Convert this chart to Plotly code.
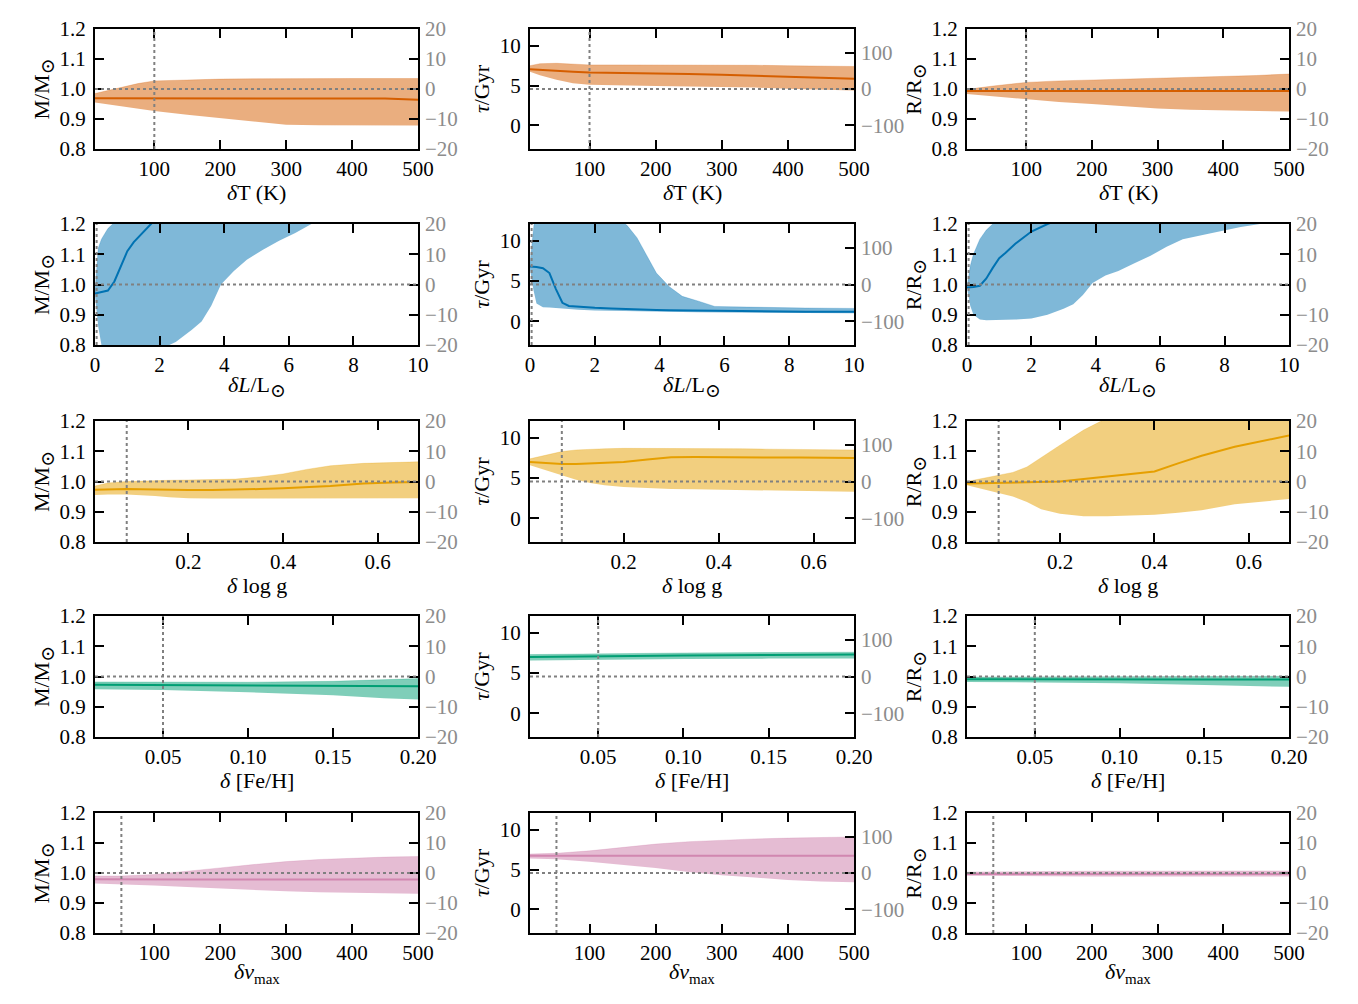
import plotly.graph_objects as go

# ---------------- data ----------------
# row 1: delta T (K)
x_T = [10, 25, 50, 75, 100, 150, 200, 250, 300, 350, 400, 450, 500]
M_T_med = [0.969, 0.969, 0.969, 0.969, 0.969, 0.970, 0.970, 0.970, 0.970, 0.970, 0.969, 0.968, 0.964]
M_T_hi = [0.985, 0.993, 1.005, 1.018, 1.027, 1.031, 1.033, 1.034, 1.035, 1.035, 1.035, 1.035, 1.035]
M_T_lo = [0.955, 0.950, 0.943, 0.935, 0.927, 0.914, 0.903, 0.890, 0.881, 0.879, 0.878, 0.878, 0.878]
A_T_med = [7.05, 7.0, 6.9, 6.75, 6.65, 6.6, 6.55, 6.45, 6.35, 6.25, 6.1, 6.0, 5.85]
A_T_hi = [7.5, 7.75, 7.8, 7.7, 7.6, 7.6, 7.6, 7.6, 7.6, 7.55, 7.5, 7.45, 7.4]
A_T_lo = [6.75, 6.3, 5.75, 5.3, 5.1, 5.0, 4.95, 4.9, 4.85, 4.75, 4.6, 4.5, 4.4]
R_T_med = [0.993, 0.993, 0.993, 0.993, 0.993, 0.993, 0.993, 0.993, 0.993, 0.993, 0.993, 0.993, 0.993]
R_T_hi = [0.997, 1.003, 1.010, 1.017, 1.022, 1.027, 1.030, 1.032, 1.035, 1.038, 1.040, 1.045, 1.050]
R_T_lo = [0.983, 0.980, 0.975, 0.970, 0.965, 0.957, 0.950, 0.942, 0.935, 0.931, 0.929, 0.927, 0.925]

# row 2: delta L / Lsun
x_L = [0, 0.1, 0.2, 0.4, 0.6, 0.8, 1.0, 1.2, 1.5, 2.0, 2.5, 3.0, 3.3, 3.6, 3.9, 4.3, 4.7, 5.2, 5.7, 6.2, 6.7, 7.5, 8.5, 10]
M_L_med = [0.97, 0.972, 0.975, 0.98, 1.01, 1.06, 1.11, 1.14, 1.175, 1.23, 1.27, 1.30, 1.32, 1.34, 1.36, 1.38, 1.40, 1.42, 1.44, 1.46, 1.48, 1.50, 1.53, 1.56]
M_L_hi = [0.975, 1.12, 1.15, 1.185, 1.205, 1.30, 1.34, 1.37, 1.40, 1.45, 1.49, 1.52, 1.54, 1.56, 1.58, 1.60, 1.62, 1.64, 1.66, 1.68, 1.70, 1.73, 1.77, 1.82]
M_L_lo = [0.965, 0.86, 0.80, 0.74, 0.71, 0.69, 0.68, 0.68, 0.70, 0.785, 0.81, 0.85, 0.878, 0.93, 1.0, 1.045, 1.082, 1.115, 1.145, 1.17, 1.20, 1.23, 1.26, 1.30]
A_L_med = [6.8, 6.8, 6.75, 6.6, 6.0, 4.0, 2.3, 1.9, 1.8, 1.68, 1.6, 1.5, 1.45, 1.42, 1.4, 1.37, 1.35, 1.32, 1.3, 1.28, 1.26, 1.23, 1.2, 1.18]
A_L_hi = [7.2, 13.0, 15.0, 16.0, 16.0, 16.0, 15.8, 15.6, 15.3, 15.0, 13.5, 11.9, 10.4, 8.2, 6.0, 4.3, 3.1, 2.5, 1.85, 1.8, 1.75, 1.7, 1.65, 1.6]
A_L_lo = [6.5, 4.0, 2.2, 1.75, 1.7, 1.62, 1.55, 1.5, 1.42, 1.35, 1.3, 1.25, 1.23, 1.22, 1.2, 1.18, 1.15, 1.13, 1.1, 1.08, 1.06, 1.04, 1.02, 1.0]
R_L_med = [0.99, 0.99, 0.992, 0.996, 1.02, 1.055, 1.087, 1.105, 1.135, 1.175, 1.20, 1.22, 1.23, 1.24, 1.25, 1.26, 1.27, 1.28, 1.29, 1.30, 1.31, 1.32, 1.33, 1.35]
R_L_hi = [0.99, 1.06, 1.10, 1.15, 1.18, 1.20, 1.22, 1.23, 1.24, 1.26, 1.28, 1.30, 1.31, 1.32, 1.33, 1.34, 1.35, 1.36, 1.37, 1.38, 1.39, 1.41, 1.43, 1.45]
R_L_lo = [0.99, 0.93, 0.90, 0.884, 0.882, 0.882, 0.882, 0.883, 0.884, 0.888, 0.90, 0.92, 0.935, 0.965, 1.005, 1.03, 1.045, 1.07, 1.095, 1.125, 1.15, 1.168, 1.19, 1.215]

# row 3: delta log g
x_G = [0.003, 0.03, 0.07, 0.1, 0.13, 0.16, 0.2, 0.25, 0.3, 0.35, 0.4, 0.45, 0.5, 0.57, 0.63, 0.685]
M_G_med = [0.973, 0.974, 0.975, 0.974, 0.973, 0.972, 0.972, 0.972, 0.973, 0.975, 0.978, 0.981, 0.985, 0.993, 0.997, 0.998]
M_G_hi = [0.985, 0.995, 1.0, 1.002, 1.003, 1.004, 1.005, 1.006, 1.008, 1.015, 1.025, 1.04, 1.052, 1.06, 1.063, 1.065]
M_G_lo = [0.955, 0.957, 0.957, 0.955, 0.952, 0.948, 0.945, 0.944, 0.944, 0.944, 0.944, 0.945, 0.945, 0.945, 0.945, 0.945]
A_G_med = [7.0, 6.9, 6.75, 6.75, 6.8, 6.9, 7.0, 7.3, 7.6, 7.62, 7.62, 7.6, 7.58, 7.55, 7.52, 7.5]
A_G_hi = [7.4, 7.8, 8.3, 8.5, 8.6, 8.65, 8.7, 8.7, 8.7, 8.7, 8.7, 8.65, 8.6, 8.55, 8.5, 8.5]
A_G_lo = [6.6, 6.1, 5.4, 4.8, 4.4, 4.1, 3.9, 3.75, 3.65, 3.6, 3.55, 3.5, 3.45, 3.4, 3.35, 3.3]
R_G_med = [0.993, 0.994, 0.995, 0.996, 0.997, 0.998, 1.0, 1.008, 1.017, 1.024, 1.033, 1.06, 1.085, 1.115, 1.135, 1.152]
R_G_hi = [1.0, 1.008, 1.02, 1.03, 1.048, 1.08, 1.12, 1.17, 1.21, 1.25, 1.28, 1.31, 1.34, 1.37, 1.40, 1.42]
R_G_lo = [0.988, 0.978, 0.962, 0.95, 0.932, 0.908, 0.893, 0.885, 0.885, 0.887, 0.89, 0.897, 0.905, 0.925, 0.935, 0.942]

# row 4: delta [Fe/H]
x_F = [0.01, 0.05, 0.1, 0.15, 0.18, 0.2]
M_F_med = [0.973, 0.972, 0.971, 0.970, 0.969, 0.968]
M_F_hi = [0.982, 0.981, 0.981, 0.984, 0.990, 0.993]
M_F_lo = [0.958, 0.955, 0.948, 0.938, 0.928, 0.924]
A_F_med = [7.0, 7.1, 7.2, 7.25, 7.3, 7.3]
A_F_hi = [7.3, 7.4, 7.5, 7.55, 7.6, 7.6]
A_F_lo = [6.55, 6.65, 6.75, 6.8, 6.8, 6.8]
R_F_med = [0.991, 0.990, 0.990, 0.990, 0.990, 0.990]
R_F_hi = [0.998, 0.999, 1.0, 1.0, 1.001, 1.001]
R_F_lo = [0.982, 0.981, 0.978, 0.972, 0.968, 0.966]

# row 5: delta nu_max
x_N = [10, 50, 100, 150, 200, 250, 300, 350, 400, 450, 500]
M_N_med = [0.979, 0.978, 0.978, 0.978, 0.978, 0.978, 0.978, 0.978, 0.978, 0.978, 0.978]
M_N_hi = [0.99, 0.99, 0.995, 1.005, 1.017, 1.028, 1.038, 1.045, 1.05, 1.053, 1.055]
M_N_lo = [0.965, 0.963, 0.958, 0.953, 0.948, 0.943, 0.939, 0.936, 0.934, 0.932, 0.931]
A_N_med = [6.75, 6.75, 6.75, 6.75, 6.75, 6.75, 6.75, 6.75, 6.75, 6.75, 6.75]
A_N_hi = [6.95, 7.05, 7.35, 7.8, 8.2, 8.5, 8.7, 8.85, 8.95, 9.05, 9.1]
A_N_lo = [6.4, 6.3, 6.0, 5.6, 5.2, 4.7, 4.3, 4.0, 3.7, 3.5, 3.4]
R_N_med = [0.997, 0.997, 0.997, 0.997, 0.997, 0.997, 0.997, 0.997, 0.997, 0.997, 0.997]
R_N_hi = [1.003, 1.004, 1.005, 1.005, 1.006, 1.006, 1.006, 1.007, 1.007, 1.007, 1.007]
R_N_lo = [0.991, 0.990, 0.989, 0.989, 0.988, 0.988, 0.988, 0.988, 0.988, 0.988, 0.988]

# reference (true) values
ref_x = [100, 0.05, 0.07, 0.05, 50]
ref_M, ref_age, ref_R = 1.0, 4.57, 1.0

SUN = '<span style="font-size:19px;baseline-shift:-5px">⊙</span>'
MAX = '<span style="font-size:15px;baseline-shift:-5px">max</span>'
x_titles = ["<i>δ</i>T (K)", "<i>δL</i>/L" + SUN, "<i>δ</i> log g", "<i>δ</i> [Fe/H]", "<i>δν</i>" + MAX]
y_titles = ["M/M" + SUN, "<i>τ</i>/Gyr", "R/R" + SUN]
x_ranges = [[10, 500], [0, 10], [0.003, 0.685], [0.01, 0.2], [10, 500]]
x_ticks = [[100, 200, 300, 400, 500], [0, 2, 4, 6, 8, 10], [0.2, 0.4, 0.6],
           [0.05, 0.10, 0.15, 0.20], [100, 200, 300, 400, 500]]
x_fmt = ["d", "d", ".1f", ".2f", "d"]
row_colors = ["213,94,0", "0,114,178", "230,159,0", "0,158,115", "204,121,167"]

rows_x = [x_T, x_L, x_G, x_F, x_N]
rows_data = [
    [(M_T_med, M_T_lo, M_T_hi), (A_T_med, A_T_lo, A_T_hi), (R_T_med, R_T_lo, R_T_hi)],
    [(M_L_med, M_L_lo, M_L_hi), (A_L_med, A_L_lo, A_L_hi), (R_L_med, R_L_lo, R_L_hi)],
    [(M_G_med, M_G_lo, M_G_hi), (A_G_med, A_G_lo, A_G_hi), (R_G_med, R_G_lo, R_G_hi)],
    [(M_F_med, M_F_lo, M_F_hi), (A_F_med, A_F_lo, A_F_hi), (R_F_med, R_F_lo, R_F_hi)],
    [(M_N_med, M_N_lo, M_N_hi), (A_N_med, A_N_lo, A_N_hi), (R_N_med, R_N_lo, R_N_hi)],
]
refs = [ref_M, ref_age, ref_R]
y_ranges = [[0.8, 1.2], [-2.95, 12.1], [0.8, 1.2]]
y_ticks = [[0.8, 0.9, 1.0, 1.1, 1.2], [0, 5, 10], [0.8, 0.9, 1.0, 1.1, 1.2]]
y_fmt = [".1f", "d", ".1f"]
y2_ticks = [[-20, -10, 0, 10, 20], [-100, 0, 100], [-20, -10, 0, 10, 20]]

# ---------------- layout geometry ----------------
W, H = 1358, 1004
cols_px = [(95, 418), (530, 854), (967, 1289)]
rows_px = [(29, 149), (224, 345), (421, 542), (616, 737), (813, 933)]
XTITLE_GAP = [43, 41, 43, 43, 40]  # px between axis line and x-title centre, per row

FONT = "Liberation Serif, DejaVu Serif, serif"
TICKFONT = dict(family=FONT, size=21, color="black")
GRAYFONT = dict(family=FONT, size=21, color="#8c8c8c")
TITLEFONT = dict(family=FONT, size=22, color="black")

fig = go.Figure()
layout = dict(
    width=W, height=H, margin=dict(l=0, r=0, t=0, b=0, autoexpand=False),
    paper_bgcolor="white", plot_bgcolor="white", showlegend=False,
    font=dict(family=FONT, size=21, color="black"),
)
shapes = []
annotations = []

for r in range(5):
    xs = rows_x[r]
    for c in range(3):
        p = r * 3 + c
        xi = p + 1
        y1 = 2 * p + 1
        y2 = 2 * p + 2
        xn = "x" if xi == 1 else f"x{xi}"
        yn1 = "y" if y1 == 1 else f"y{y1}"
        yn2 = f"y{y2}"
        med, lo, hi = rows_data[r][c]
        rgb = row_colors[r]
        fill = f"rgba({rgb},0.5)"
        line_col = f"rgba({rgb},0.8)" if r == 4 else f"rgb({rgb})"

        fig.add_trace(go.Scatter(x=xs, y=lo, mode="lines", line=dict(width=0, color=fill),
                                 xaxis=xn, yaxis=yn1, hoverinfo="skip"))
        fig.add_trace(go.Scatter(x=xs, y=hi, mode="lines", line=dict(width=0.8, color=f"rgba({rgb},0.3)"),
                                 fill="tonexty", fillcolor=fill,
                                 xaxis=xn, yaxis=yn1, hoverinfo="skip"))
        fig.add_trace(go.Scatter(x=xs, y=med, mode="lines", line=dict(width=2, color=line_col),
                                 xaxis=xn, yaxis=yn1))
        # percent-deviation twin axis (invisible helper trace)
        pct = [(v / refs[c] - 1) * 100 for v in med]
        fig.add_trace(go.Scatter(x=xs, y=pct, mode="lines", line=dict(width=0), opacity=0,
                                 xaxis=xn, yaxis=yn2, hoverinfo="skip"))

        xl, xr = cols_px[c]
        yt, yb = rows_px[r]
        xdom = [xl / W, xr / W]
        ydom = [1 - yb / H, 1 - yt / H]

        layout[f"xaxis{xi}"] = dict(
            domain=xdom, anchor=yn1, range=x_ranges[r], tickvals=x_ticks[r],
            tickformat=x_fmt[r], ticks="inside", ticklen=9, tickwidth=1.5, tickcolor="black",
            showline=True, linecolor="black", linewidth=2, mirror="ticks",
            showgrid=False, zeroline=False, tickfont=TICKFONT, automargin=False,
        )
        annotations.append(dict(
            text=x_titles[r], xref="paper", yref="paper", showarrow=False,
            x=(xl + xr) / 2 / W, y=1 - (yb + XTITLE_GAP[r]) / H,
            xanchor="center", yanchor="middle", font=TITLEFONT,
        ))
        layout[f"yaxis{y1}"] = dict(
            domain=ydom, anchor=xn, range=y_ranges[c], tickvals=y_ticks[c],
            tickformat=y_fmt[c], ticks="inside", ticklen=9, tickwidth=1.5, tickcolor="black",
            showline=True, linecolor="black", linewidth=2, mirror=True,
            showgrid=False, zeroline=False, tickfont=TICKFONT, automargin=False,
            ticklabelstandoff=3,
            title=dict(text=y_titles[c], font=TITLEFONT, standoff=4),
        )
        y2_range = [(v / refs[c] - 1) * 100 for v in y_ranges[c]]
        layout[f"yaxis{y2}"] = dict(
            overlaying=yn1, anchor=xn, side="right", range=y2_range, tickvals=y2_ticks[c],
            ticks="inside", ticklen=9, tickwidth=1.5, tickcolor="black",
            showline=False, showgrid=False, zeroline=False, tickfont=GRAYFONT,
            automargin=False, ticklabelstandoff=6,
        )
        # reference lines
        shapes.append(dict(type="line", xref=xn, yref=f"{yn1} domain", x0=ref_x[r], x1=ref_x[r],
                           y0=0, y1=1, line=dict(color="#808080", width=2, dash="dot"), layer="above"))
        shapes.append(dict(type="line", xref=f"{xn} domain", yref=yn1, x0=0, x1=1,
                           y0=refs[c], y1=refs[c], line=dict(color="#808080", width=2, dash="dot"),
                           layer="above"))

layout["shapes"] = shapes
layout["annotations"] = annotations
fig.update_layout(**layout)
fig.write_html("out.html",
               post_script="document.body.style.margin='0px';document.body.style.overflow='hidden';")
